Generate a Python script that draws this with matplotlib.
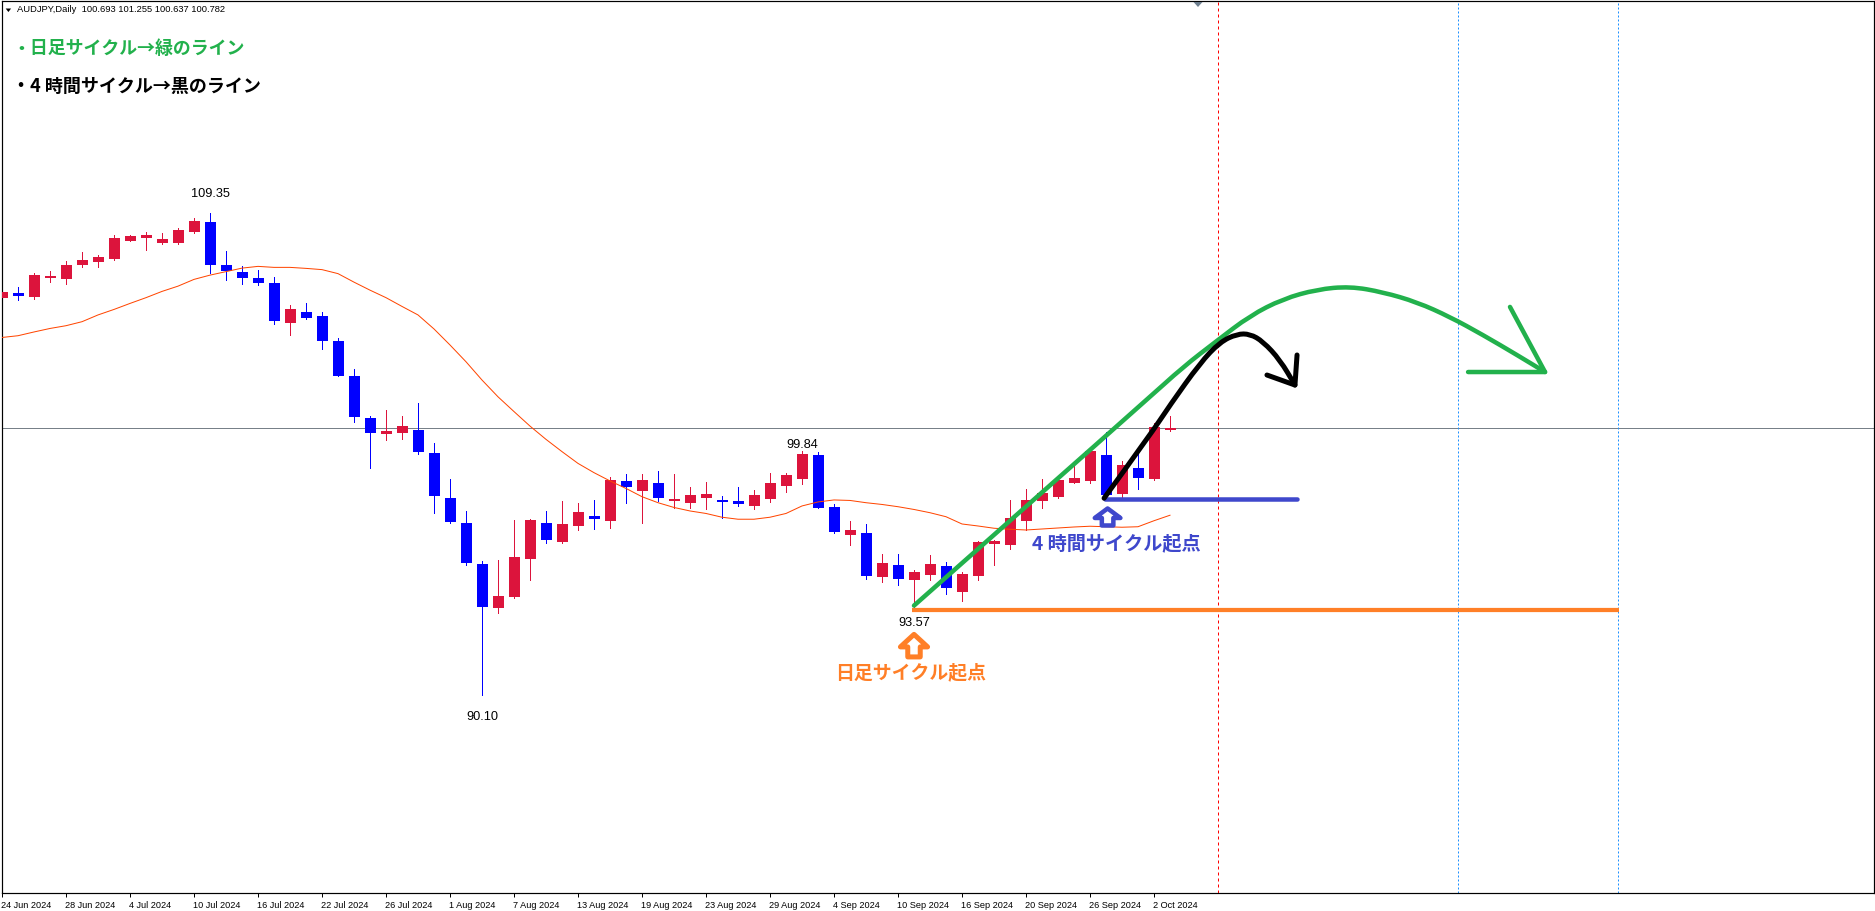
import matplotlib
matplotlib.use("Agg")
import matplotlib.pyplot as plt
from matplotlib.path import Path
from matplotlib.patches import PathPatch
from matplotlib.transforms import ScaledTranslation

W, H = 1875, 911

symbol_label = "AUDJPY,Daily  100.693 101.255 100.637 100.782"
tick_bars = [0, 4, 8, 12, 16, 20, 24, 28, 32, 36, 40, 44, 48, 52, 56, 60, 64, 68, 72]
tick_dates = ["24 Jun 2024", "28 Jun 2024", "4 Jul 2024", "10 Jul 2024", "16 Jul 2024",
              "22 Jul 2024", "26 Jul 2024", "1 Aug 2024", "7 Aug 2024", "13 Aug 2024",
              "19 Aug 2024", "23 Aug 2024", "29 Aug 2024", "4 Sep 2024", "10 Sep 2024",
              "16 Sep 2024", "20 Sep 2024", "26 Sep 2024", "2 Oct 2024"]

opens = [105.97, 106.15, 105.99, 106.75, 106.71, 107.27, 107.39, 107.51, 108.23, 108.35,
         108.15, 108.15, 108.59, 108.99, 107.27, 106.99, 106.75, 106.55, 104.96, 105.40,
         105.24, 104.24, 102.84, 101.16, 100.52, 100.56, 100.68, 99.76, 97.97, 96.97,
         95.33, 93.57, 94.01, 95.53, 96.97, 96.21, 96.85, 97.25, 97.05, 98.65,
         98.25, 98.57, 97.85, 97.77, 97.97, 97.89, 97.85, 97.65, 97.93, 98.45,
         98.73, 99.68, 97.61, 96.49, 96.57, 94.81, 95.29, 94.69, 94.89, 95.25,
         94.21, 94.85, 96.13, 96.09, 97.05, 97.85, 98.01, 98.57, 98.65, 99.68,
         98.13, 99.17, 98.73, 100.693]
highs = [106.34, 106.39, 106.94, 107.03, 107.43, 107.79, 107.67, 108.47, 108.47, 108.59,
         108.55, 108.75, 109.15, 109.35, 107.83, 107.23, 107.07, 106.79, 105.68, 105.76,
         105.40, 104.36, 103.12, 101.24, 101.48, 101.24, 101.76, 100.16, 98.73, 97.45,
         95.45, 95.49, 97.09, 97.13, 97.45, 97.85, 97.77, 97.89, 98.81, 98.93,
         98.93, 99.05, 98.93, 98.41, 98.61, 98.05, 98.41, 98.29, 98.97, 98.97,
         99.84, 99.80, 97.73, 97.05, 96.93, 95.73, 95.73, 95.09, 95.69, 95.41,
         95.01, 96.25, 96.29, 97.89, 98.33, 98.73, 98.82, 99.35, 99.88, 100.62,
         99.45, 99.82, 100.95, 101.255]
lows = [105.52, 105.87, 105.91, 106.59, 106.51, 107.19, 107.19, 107.47, 108.23, 107.87,
        108.11, 108.11, 108.55, 106.95, 106.67, 106.51, 106.47, 104.92, 104.48, 105.12,
        103.92, 102.84, 101.00, 99.17, 100.28, 100.32, 99.72, 97.37, 96.97, 95.29,
        90.10, 93.37, 93.97, 94.69, 96.17, 96.17, 96.69, 96.73, 96.77, 97.77,
        96.97, 97.85, 97.57, 97.57, 97.53, 97.18, 97.65, 97.53, 97.81, 98.21,
        98.53, 97.57, 96.57, 96.09, 94.73, 94.61, 94.49, 93.57, 94.69, 94.13,
        93.85, 94.69, 95.29, 95.93, 96.69, 97.57, 97.97, 98.57, 98.57, 98.03,
        98.01, 98.33, 98.67, 100.637]
closes = [106.19, 106.03, 106.87, 106.83, 107.27, 107.47, 107.59, 108.35, 108.43, 108.47,
          108.31, 108.67, 109.03, 107.27, 107.03, 106.75, 106.55, 105.04, 105.52, 105.16,
          104.24, 102.84, 101.22, 100.56, 100.64, 100.84, 99.80, 98.05, 97.01, 95.37,
          93.61, 94.05, 95.61, 97.09, 96.29, 96.93, 97.41, 97.13, 98.69, 98.41,
          98.69, 97.97, 97.93, 98.09, 98.13, 97.81, 97.73, 98.09, 98.57, 98.89,
          99.72, 97.57, 96.61, 96.69, 94.85, 95.37, 94.73, 95.01, 95.33, 94.37,
          94.93, 96.21, 96.25, 97.17, 97.89, 98.17, 98.69, 98.77, 99.84, 98.09,
          99.29, 98.77, 100.79, 100.782]
moving_avg = [104.38, 104.45, 104.60, 104.74, 104.85, 105.01, 105.28, 105.50, 105.74, 105.97,
              106.22, 106.43, 106.70, 106.87, 107.01, 107.15, 107.22, 107.18, 107.18, 107.14,
              107.09, 106.93, 106.59, 106.27, 105.97, 105.62, 105.28, 104.72, 104.08, 103.41,
              102.68, 102.01, 101.42, 100.84, 100.31, 99.82, 99.35, 98.98, 98.65, 98.35,
              98.02, 97.78, 97.59, 97.45, 97.35, 97.20, 97.12, 97.12, 97.20, 97.35,
              97.65, 97.81, 97.89, 97.87, 97.78, 97.71, 97.62, 97.51, 97.38, 97.22,
              96.93, 96.85, 96.76, 96.72, 96.69, 96.73, 96.77, 96.81, 96.84, 96.82,
              96.80, 96.82, 97.06, 97.28]

# chart objects, in bars and price
last_close = 100.782
red_vline = 76
blue_vlines = [91, 101]
label_bars = [13, 50, 57, 30]
label_prices = [109.35, 99.84, 93.57, 90.10]
label_shift = [19, 6, -15, -22]

green_x = [57, 71.54, 73.81, 75.94, 78.0, 80.06, 82.19, 84.25, 86.31, 88.44, 90.5, 92.56, 94.69, 96.44]
green_y = [93.67, 101.88, 103.20, 104.25, 105.25, 105.92, 106.30, 106.42, 106.19, 105.79, 105.20, 104.48, 103.68, 103.00]
green_head_x = [94.25, 96.44, 91.63]
green_head_y = [105.60, 103.00, 103.00]
black_x = [68.88, 71.75, 73.0, 74.88, 76.13, 77.19, 78.0, 78.81, 79.88, 80.81]
black_y = [97.96, 100.48, 101.68, 103.36, 104.20, 104.52, 104.52, 104.22, 103.48, 102.48]
black_head_x = [80.94, 80.81, 79.06]
black_head_y = [103.68, 102.48, 102.88]


def hollow_arrow(ax, cx, tip, shoulder, base, head_w, stem_w, color, lw):
    xs = [cx, cx + head_w, cx + stem_w, cx + stem_w, cx - stem_w, cx - stem_w, cx - head_w]
    ys = [tip, shoulder, shoulder, base, base, shoulder, shoulder]
    ax.fill(xs, ys, facecolor="white", edgecolor=color, linewidth=lw, joinstyle="round", zorder=6)


def smooth_line(ax, xs, ys, color, lw, zorder):
    # quadratic curve through the midpoints, like the hand drawn strokes
    pts = list(zip(xs, ys))
    verts = [pts[0]]
    codes = [Path.MOVETO]
    for a, b in zip(pts[1:-1], pts[2:]):
        verts += [a, ((a[0] + b[0]) / 2, (a[1] + b[1]) / 2)]
        codes += [Path.CURVE3, Path.CURVE3]
    verts.append(pts[-1])
    codes.append(Path.LINETO)
    ax.add_patch(PathPatch(Path(verts, codes), fill=False, edgecolor=color, lw=lw,
                           capstyle="round", joinstyle="round", zorder=zorder))


PX = 72 / 100
RED = "#DC143C"
BLUE = "#0000FF"
GREEN = "#22B14C"
ORANGE = "#FF7F27"
INDIGO = "#3F48CC"
CJK = ["Noto Sans CJK JP", "DejaVu Sans"]
plt.rcParams["font.family"] = ["Liberation Sans", "DejaVu Sans"]

fig = plt.figure(figsize=(W / 100, H / 100), dpi=100, facecolor="white")
ax = fig.add_axes([2 / W, (H - 893) / H, 1872 / W, 892 / H])
ax.set_xlim(0, 117)
ax.set_ylim(82.19, 117.82)
for s in ax.spines.values():
    s.set_linewidth(1.2 * PX)
    s.set_color("black")

# price line and period separators
ax.axhline(last_close, color="#778088", lw=1 * PX, zorder=1)
ax.axvline(red_vline, color="#FF0000", lw=1 * PX, ls=(0, (3, 3)), zorder=1)
for v in blue_vlines:
    ax.axvline(v, color="#1E90FF", lw=1 * PX, ls=(0, (2, 2)), zorder=1)

# candles
bars = list(range(len(opens)))
colors = [RED if c >= o else BLUE for o, c in zip(opens, closes)]
ax.vlines(bars, lows, highs, colors=colors, lw=1 * PX, antialiased=False, zorder=2)
ax.bar(bars, [abs(c - o) for o, c in zip(opens, closes)],
       bottom=[min(o, c) for o, c in zip(opens, closes)],
       width=11 / 16, color=colors, linewidth=0, antialiased=False, zorder=3)
ax.plot(bars, moving_avg, color="#FF4500", lw=1 * PX, zorder=4)

# hand drawn lines
ax.plot([56.875, 101.06], [93.48, 93.48], color=ORANGE, lw=4.2 * PX, solid_capstyle="butt", zorder=5)
ax.plot([68.94, 80.94], [97.92, 97.92], color=INDIGO, lw=4.5 * PX, solid_capstyle="round", zorder=5)
smooth_line(ax, green_x, green_y, GREEN, 4.5 * PX, 7)
ax.plot(green_head_x, green_head_y, color=GREEN, lw=4.5 * PX, solid_capstyle="round", solid_joinstyle="round", zorder=7)
smooth_line(ax, black_x, black_y, "black", 5 * PX, 8)
ax.plot(black_head_x, black_head_y, color="black", lw=5 * PX, solid_capstyle="round", solid_joinstyle="round", zorder=8)
hollow_arrow(ax, 57.0, 92.52, 92.02, 91.62, 0.85, 0.39, ORANGE, 5 * PX)
hollow_arrow(ax, 69.1, 97.55, 97.17, 96.87, 0.8, 0.36, INDIGO, 4.5 * PX)

# high and low labels
for bar, price, shift in zip(label_bars, label_prices, label_shift):
    ax.annotate(f"{price:.2f}", (bar, price), xytext=(0, shift), textcoords="offset pixels",
                ha="center", va="center", fontsize=9.2, color="black")

# header and notes
fig.text(17 / W, 1 - 10 / H, symbol_label, fontsize=6.75, va="center", ha="left", color="black")
ax.fill([0.23, 0.57, 0.4], [117.52, 117.52, 117.38], color="black", lw=0, zorder=9)
ax.fill([74.47, 75.03, 74.75], [117.78, 117.78, 117.58], color="#6E7F8F", lw=0, zorder=9)
fig.text(12 / W, 1 - 49 / H, "・日足サイクル→緑のライン", family=CJK, fontweight="bold",
         fontsize=12.9, color=GREEN, va="center", ha="left")
fig.text(12 / W, 1 - 86 / H, "・4 時間サイクル→黒のライン", family=CJK, fontweight="bold",
         fontsize=13, color="black", va="center", ha="left")
fig.text(1032 / W, 1 - 544 / H, "4 時間サイクル起点", family=CJK, fontweight="bold",
         fontsize=13.8, color=INDIGO, va="center", ha="left")
fig.text(835 / W, 1 - 673 / H, "日足サイクル起点", family=CJK, fontweight="bold",
         fontsize=13.6, color=ORANGE, va="center", ha="left")

# date axis
ax.set_yticks([])
ax.set_xticks(tick_bars)
ax.set_xticklabels(tick_dates, ha="left", fontsize=6.6)
ax.tick_params(axis="x", length=3.5 * PX, width=1 * PX, pad=3, color="black")
nudge = ScaledTranslation(-1 / 100, 0, fig.dpi_scale_trans)
for t in ax.get_xticklabels():
    t.set_transform(t.get_transform() + nudge)

fig.savefig("out.png", dpi=100)
